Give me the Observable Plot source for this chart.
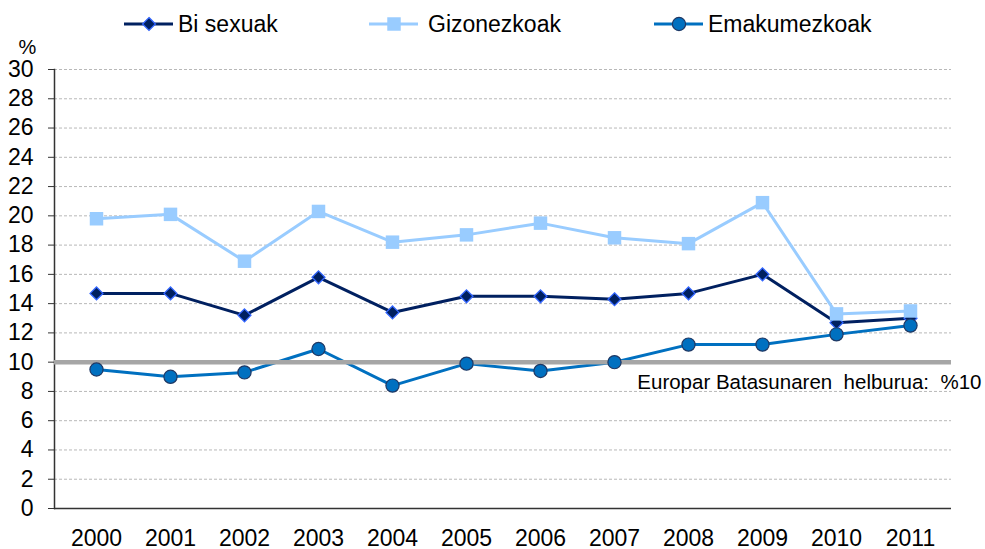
<!DOCTYPE html>
<html>
<head>
<meta charset="utf-8">
<script src="https://cdn.jsdelivr.net/npm/d3@7"></script>
<script src="https://cdn.jsdelivr.net/npm/@observablehq/plot@0.6"></script>
<style>
  html, body { margin: 0; padding: 0; background: #fff; }
  #wrap { width: 985px; height: 549px; font-family: "Liberation Sans", Arial, sans-serif; }
  #legend { display: block; }
  svg { display: block; }
</style>
</head>
<body>
<div id="wrap"></div>
<script>
// ---- data ----
const years = ["2000","2001","2002","2003","2004","2005","2006","2007","2008","2009","2010","2011"];
const biSexuak     = [14.7, 14.7, 13.2, 15.8, 13.4, 14.5, 14.5, 14.3, 14.7, 16.0, 12.7, 13.0];
const gizonezkoak  = [19.8, 20.1, 16.9, 20.3, 18.2, 18.7, 19.5, 18.5, 18.1, 20.9, 13.3, 13.5];
const emakumezkoak = [9.5, 9.0, 9.3, 10.9, 8.4, 9.9, 9.4, 10.0, 11.2, 11.2, 11.9, 12.5];
const seriesNames = ["Bi sexuak", "Gizonezkoak", "Emakumezkoak"];
const yTicks = [0,2,4,6,8,10,12,14,16,18,20,22,24,26,28,30];
const targetValue = 10;
const targetLabel = "Europar Batasunaren  helburua:  %10";
const unitLabel = "%";

// ---- styles ----
const styles = {
  "Bi sexuak":    {line: "#002060", fill: "#002060", stroke: "#3366ff", symbol: "diamond2", r: 5.8, sw: 1.3},
  "Gizonezkoak":  {line: "#99ccff", fill: "#99ccff", stroke: "#99ccff", symbol: "square", r: 7.6, sw: 0},
  "Emakumezkoak": {line: "#0070c0", fill: "#0070c0", stroke: "#1f3864", symbol: "circle", r: 6.6, sw: 1.2}
};
const font = '"Liberation Sans", Arial, sans-serif';

const values = [biSexuak, gizonezkoak, emakumezkoak];
const rows = [];
seriesNames.forEach((s, i) => years.forEach((y, j) => rows.push({series: s, year: y, value: values[i][j]})));

// ---- legend ----
const wrap = d3.select("#wrap");
const leg = wrap.append("svg").attr("id", "legend").attr("width", 985).attr("height", 36);
const legendPos = [124, 369, 654];
seriesNames.forEach((s, i) => {
  const st = styles[s];
  const x0 = legendPos[i], cy = 24, cx = x0 + 25;
  const g = leg.append("g");
  g.append("line").attr("x1", x0).attr("x2", x0 + 49).attr("y1", cy).attr("y2", cy)
    .attr("stroke", st.line).attr("stroke-width", 3);
  const sym = st.symbol === "diamond2" ? d3.symbolDiamond2 : st.symbol === "square" ? d3.symbolSquare : d3.symbolCircle;
  g.append("path").attr("transform", `translate(${cx},${cy})`)
    .attr("d", d3.symbol(sym, Math.PI * st.r * st.r)())
    .attr("fill", st.fill).attr("stroke", st.sw ? st.stroke : "none").attr("stroke-width", st.sw);
  g.append("text").attr("x", x0 + 54 + (i === 1 ? 5 : 0)).attr("y", 32)
    .attr("font-family", font).attr("font-size", 23).attr("fill", "#000").text(s);
});

// ---- chart ----
const chart = Plot.plot({
  width: 985,
  height: 513,
  marginLeft: 54,
  marginRight: 34,
  marginTop: 33,
  marginBottom: 41,
  style: {fontFamily: font, background: "white", overflow: "visible"},
  x: {type: "band", domain: years, padding: 0},
  y: {domain: [0, 30]},
  marks: [
    Plot.gridY(yTicks.filter(d => d > 0), {stroke: "#b8b8b8", strokeOpacity: 1, strokeDasharray: "3,2", strokeWidth: 1}),
    Plot.axisY(yTicks, {tickSize: 6, tickPadding: 15, fontSize: 23, label: null, stroke: "#333", fill: "#000"}),
    Plot.axisX({tickSize: 0, tickPadding: 21, fontSize: 23, label: null, fill: "#000"}),
    Plot.frame({anchor: "left", stroke: "#333", strokeWidth: 1.5}),
    Plot.ruleY([0], {stroke: "#333", strokeWidth: 1.5}),
    ...seriesNames.map(s => Plot.line(rows.filter(d => d.series === s), {
      x: "year", y: "value", stroke: styles[s].line, strokeWidth: 3
    })),
    Plot.ruleY([targetValue], {stroke: "#a6a6a6", strokeWidth: 4.5}),
    ...seriesNames.map(s => Plot.dot(rows.filter(d => d.series === s), {
      x: "year", y: "value", symbol: () => styles[s].symbol, r: styles[s].r,
      fill: styles[s].fill, stroke: styles[s].sw ? styles[s].stroke : "none", strokeWidth: styles[s].sw
    })),
    Plot.text([targetLabel], {
      y: () => targetValue, frameAnchor: "right", text: d => d, textAnchor: "end",
      dx: 30, dy: 20, fontSize: 20.5, fill: "#000", stroke: "white", strokeWidth: 3
    }),
    Plot.text([unitLabel], {
      frameAnchor: "top-left", text: d => d, textAnchor: "middle", dx: -27, dy: -30, fontSize: 20, fill: "#000"
    })
  ]
});
wrap.node().appendChild(chart);
</script>
</body>
</html>
